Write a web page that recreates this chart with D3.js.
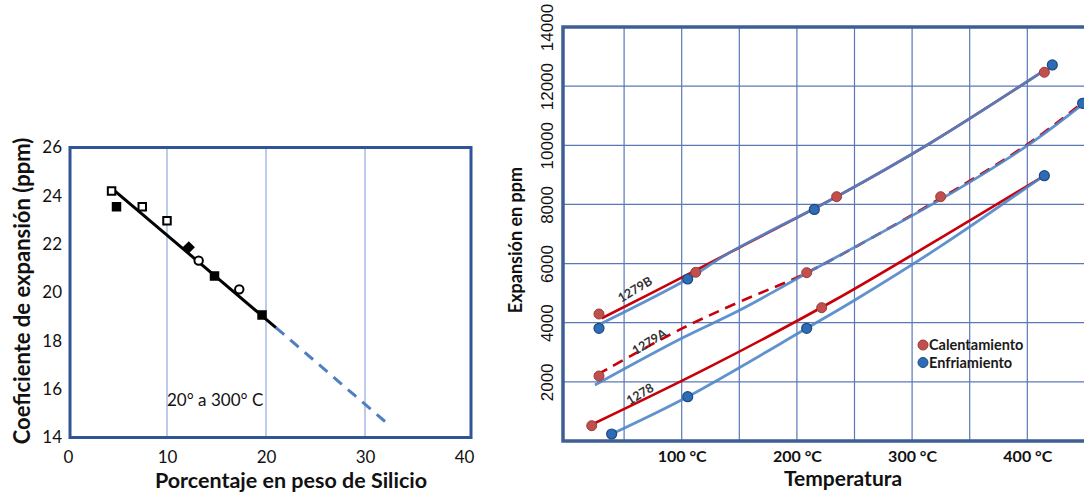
<!DOCTYPE html>
<html>
<head>
<meta charset="utf-8">
<script src="https://cdn.jsdelivr.net/npm/d3@7"></script>
<style>
  body { margin: 0; background: #fff; }
  svg { display: block; }
</style>
</head>
<body>
<script>
/* global d3 */

// left panel: coefficient vs silicon content
var siliconPct = [4.4, 4.9, 7.5, 10.0, 12.2, 13.2, 14.8, 17.3, 19.6]
var expansionCoef = [24.2, 23.55, 23.55, 22.97, 21.87, 21.32, 20.68, 20.13, 19.07]
var markerKind = ['openSquare', 'filledSquare', 'openSquare', 'openSquare', 'filledDiamond', 'openCircle', 'filledSquare', 'openCircle', 'filledSquare']
var trendSolid = [[4.6, 24.25], [21.0, 18.55]]
var trendDashed = [[21.0, 18.55], [32.2, 14.6]]
var siliconTicks = [0, 10, 20, 30, 40]
var coefTicks = [14, 16, 18, 20, 22, 24, 26]

// right panel: expansion (ppm) vs temperature (°C)
var tempTicks = [100, 200, 300, 400]
var tempGrid = [50, 100, 150, 200, 250, 300, 350, 400]
var ppmTicks = [2000, 4000, 6000, 8000, 10000, 12000, 14000]
var ppmGrid = [2000, 4000, 6000, 8000, 10000, 12000]

var heat1279B = [[30.6, 4150], [110, 5725], [140, 6337], [234.5, 8262], [315.5, 10068], [411, 12435]]
var cool1279B = [[30.6, 3980], [105.2, 5478], [140, 6337], [234.5, 8262], [315.5, 10068], [411, 12435]]
var heat1279A = [[27, 2250], [100, 3800], [150.6, 4711], [208.5, 5692], [324.8, 8210], [400, 10030], [449, 11470]]
var cool1279A = [[24.7, 1894], [100, 3473], [150.6, 4430], [208.5, 5671], [324.8, 8170], [400, 9990], [449, 11420]]
var heat1278 = [[23, 575], [124.6, 2513], [233, 4768], [324.2, 6855], [411, 8884]]
var cool1278 = [[39.2, 237], [105.2, 1498], [208.5, 3811], [250.4, 4768], [324.2, 6571], [411, 8884]]

var heatDots = [[28.2, 4295], [112.2, 5705], [234.5, 8262], [414.8, 12469], [28.2, 2198], [208.5, 5692], [324.8, 8262], [21.9, 517], [221.5, 4508]]
var coolDots = [[28.2, 3811], [105.2, 5478], [215.1, 7830], [421.7, 12716], [448, 11420], [39.2, 237], [105.2, 1498], [208.5, 3811], [414.8, 8972]]

var seriesLabels = ['1279B', '1279A', '1278']
var seriesLabelAt = [[59.5, 5130], [71.9, 3358], [63.8, 1589]]
var legendNames = ['Calentamiento', 'Enfriamiento']

var svg = d3.select('body').append('svg')
  .attr('width', 1084)
  .attr('height', 492)

drawSilicon()
drawExpansion()

function drawSilicon () {
  var x = d3.scaleLinear().domain([0, 40]).range([68, 464])
  var y = d3.scaleLinear().domain([14, 26]).range([437.5, 147.5])
  var g = svg.append('g')

  g.selectAll('line.grid')
    .data([10, 20, 30])
    .join('line')
    .attr('class', 'grid')
    .attr('x1', d => x(d))
    .attr('x2', d => x(d))
    .attr('y1', y(26))
    .attr('y2', y(14))
    .style('stroke', '#8faadc')
    .style('stroke-width', 1.2)

  g.append('rect')
    .attr('x', 70)
    .attr('y', y(26))
    .attr('width', 401)
    .attr('height', y(14) - y(26))
    .style('fill', 'none')
    .style('stroke', '#2f5597')
    .style('stroke-width', 3)

  var yAxis = g.append('g')
    .attr('transform', 'translate(62,0)')
    .call(d3.axisLeft(y).tickValues(coefTicks).tickSize(0).tickPadding(0))
  yAxis.select('.domain').remove()
  yAxis.selectAll('text').style('font', '17px Lato').style('fill', '#111')

  var xAxis = g.append('g')
    .attr('transform', 'translate(0,451)')
    .call(d3.axisBottom(x).tickValues(siliconTicks).tickSize(0).tickPadding(0))
  xAxis.select('.domain').remove()
  xAxis.selectAll('text').style('font', '17px Lato').style('fill', '#111')

  var line = d3.line().x(d => x(d[0])).y(d => y(d[1]))
  g.append('path')
    .attr('d', line(trendDashed))
    .style('fill', 'none')
    .style('stroke', '#4f7fc0')
    .style('stroke-width', 3)
    .style('stroke-dasharray', '11 8')
  g.append('path')
    .attr('d', line(trendSolid))
    .style('fill', 'none')
    .style('stroke', '#000')
    .style('stroke-width', 3)

  var shapes = {
    openSquare: d3.symbolSquare,
    filledSquare: d3.symbolSquare,
    filledDiamond: d3.symbolDiamond2 || d3.symbolDiamond,
    openCircle: d3.symbolCircle
  }
  g.selectAll('path.pt')
    .data(siliconPct)
    .join('path')
    .attr('class', 'pt')
    .attr('transform', (d, i) => 'translate(' + x(d) + ',' + y(expansionCoef[i]) + ')')
    .attr('d', (d, i) => d3.symbol(shapes[markerKind[i]], 56)())
    .style('fill', (d, i) => markerKind[i].indexOf('open') === 0 ? '#fff' : '#000')
    .style('stroke', '#000')
    .style('stroke-width', 2)

  g.append('text')
    .attr('x', 167)
    .attr('y', 406)
    .text('20° a 300° C')
    .style('font', '17px Lato')
    .style('fill', '#111')

  g.append('text')
    .attr('x', 291)
    .attr('y', 488)
    .attr('text-anchor', 'middle')
    .text('Porcentaje en peso de Silicio')
    .style('font', 'bold 21.5px Lato')
    .style('fill', '#111')

  g.append('text')
    .attr('transform', 'translate(30,291) rotate(-90)')
    .attr('text-anchor', 'middle')
    .text('Coeficiente de expansión (ppm)')
    .style('font', 'bold 22px Lato')
    .style('fill', '#111')
}

function drawExpansion () {
  var x = d3.scaleLinear().domain([0, 450]).range([566.5, 1084.9])
  var y = d3.scaleLinear().domain([0, 14000]).range([441, 27])
  var g = svg.append('g')
  var left = 563

  g.selectAll('line.vgrid')
    .data(tempGrid)
    .join('line')
    .attr('class', 'vgrid')
    .attr('x1', d => x(d))
    .attr('x2', d => x(d))
    .attr('y1', y(14000))
    .attr('y2', y(0))
    .style('stroke', '#5a78b8')
    .style('stroke-width', 1.2)

  g.selectAll('line.hgrid')
    .data(ppmGrid)
    .join('line')
    .attr('class', 'hgrid')
    .attr('x1', left)
    .attr('x2', 1084)
    .attr('y1', d => y(d))
    .attr('y2', d => y(d))
    .style('stroke', '#5a78b8')
    .style('stroke-width', 1.2)

  // frame: left, top and bottom only (right edge runs off the picture)
  g.append('path')
    .attr('d', 'M1084,' + y(14000) + 'H' + left + 'V' + y(0) + 'H1084')
    .style('fill', 'none')
    .style('stroke', '#3e5f92')
    .style('stroke-width', 3.5)

  var yAxis = g.append('g')
    .attr('transform', 'translate(547,0)')
    .call(d3.axisLeft(y).tickValues(ppmTicks).tickSize(0).tickPadding(0)
      .tickFormat(d3.format('d')))
  yAxis.select('.domain').remove()
  yAxis.selectAll('text')
    .attr('x', 0)
    .attr('dy', '0.36em')
    .attr('text-anchor', 'middle')
    .attr('transform', 'rotate(-90)')
    .style('font', '17px "Liberation Sans"')
    .style('fill', '#111')

  var xAxis = g.append('g')
    .attr('transform', 'translate(0,451)')
    .call(d3.axisBottom(x).tickValues(tempTicks).tickSize(0).tickPadding(0)
      .tickFormat(d => d + ' °C'))
  xAxis.select('.domain').remove()
  xAxis.selectAll('text').style('font', 'bold 16px Lato').style('fill', '#111')

  var line = d3.line().curve(d3.curveCatmullRom.alpha(0.5)).x(d => x(d[0])).y(d => y(d[1]))
  var red = '#c8000a'
  var blue = '#4f86c8'

  ;[heat1279B, heat1278].forEach(function (s) {
    g.append('path').attr('d', line(s))
      .style('fill', 'none').style('stroke', red).style('stroke-width', 2.6)
  })
  g.append('path').attr('d', line(heat1279A))
    .style('fill', 'none').style('stroke', red).style('stroke-width', 2.6)
    .style('stroke-dasharray', '11 7')
  ;[cool1279B, cool1279A, cool1278].forEach(function (s) {
    g.append('path').attr('d', line(s))
      .style('fill', 'none').style('stroke', blue).style('stroke-width', 2.8)
      .style('stroke-opacity', 0.9)
  })

  g.selectAll('circle.heat')
    .data(heatDots)
    .join('circle')
    .attr('class', 'heat')
    .attr('cx', d => x(d[0]))
    .attr('cy', d => y(d[1]))
    .attr('r', 5)
    .style('fill', '#c0504d')
    .style('stroke', '#9a3b38')
    .style('stroke-width', 1)

  g.selectAll('circle.cool')
    .data(coolDots)
    .join('circle')
    .attr('class', 'cool')
    .attr('cx', d => x(d[0]))
    .attr('cy', d => y(d[1]))
    .attr('r', 5)
    .style('fill', '#2e6db5')
    .style('stroke', '#1d4a80')
    .style('stroke-width', 1.2)

  g.selectAll('text.series')
    .data(seriesLabels)
    .join('text')
    .attr('class', 'series')
    .attr('transform', (d, i) => 'translate(' + x(seriesLabelAt[i][0]) + ',' + y(seriesLabelAt[i][1]) + ') rotate(-31)')
    .attr('text-anchor', 'middle')
    .attr('dy', '0.35em')
    .text(d => d)
    .style('font', 'bold 12.5px Lato')
    .style('fill', '#333')

  var legend = g.selectAll('g.legend')
    .data(legendNames)
    .join('g')
    .attr('class', 'legend')
    .attr('transform', (d, i) => 'translate(923,' + (345 + i * 17.5) + ')')
  legend.append('circle')
    .attr('r', 5)
    .style('fill', (d, i) => i === 0 ? '#c0504d' : '#2e6db5')
    .style('stroke', (d, i) => i === 0 ? '#9a3b38' : '#1d4a80')
  legend.append('text')
    .attr('x', 6)
    .attr('dy', '0.35em')
    .text(d => d)
    .style('font', 'bold 14.5px Lato')
    .style('fill', '#1a1a1a')

  g.append('text')
    .attr('x', 843)
    .attr('y', 486)
    .attr('text-anchor', 'middle')
    .text('Temperatura')
    .style('font', 'bold 21px Lato')
    .style('fill', '#111')

  g.append('text')
    .attr('transform', 'translate(522,240) rotate(-90)')
    .attr('text-anchor', 'middle')
    .text('Expansión en ppm')
    .style('font', 'bold 18px Lato')
    .style('fill', '#111')
}
</script>
</body>
</html>
